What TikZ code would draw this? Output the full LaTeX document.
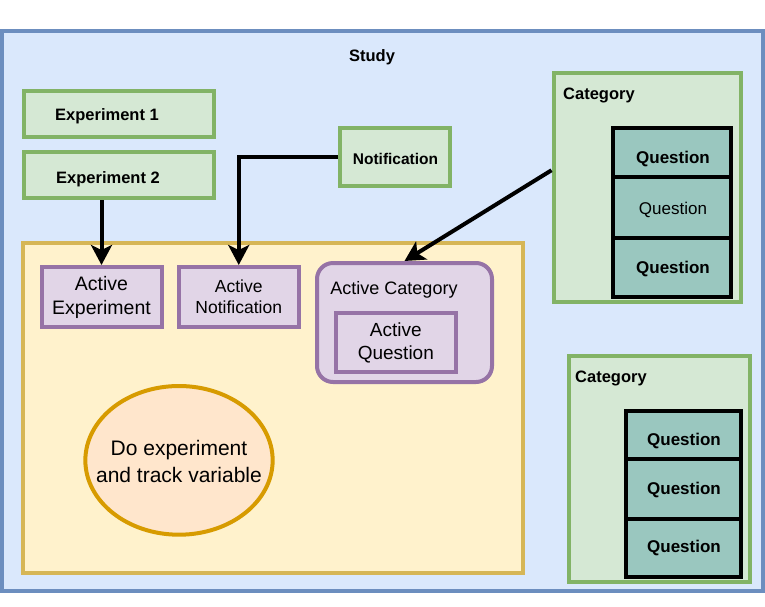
\documentclass[tikz,border=0pt]{standalone}
\usepackage{fontspec}
\setmainfont{Liberation Sans}
\usetikzlibrary{arrows.meta,shapes.geometric}
\definecolor{bluefill}{HTML}{DAE8FC}
\definecolor{bluedraw}{HTML}{6C8EBF}
\definecolor{greenfill}{HTML}{D5E8D4}
\definecolor{greendraw}{HTML}{82B366}
\definecolor{yellowfill}{HTML}{FFF2CC}
\definecolor{yellowdraw}{HTML}{D6B656}
\definecolor{purplefill}{HTML}{E1D5E7}
\definecolor{purpledraw}{HTML}{9673A6}
\definecolor{orangefill}{HTML}{FFE6CC}
\definecolor{orangedraw}{HTML}{D79B00}
\definecolor{qfill}{HTML}{9AC7BF}
\begin{document}
\begin{tikzpicture}[x=1pt,y=-1pt,
  box/.style={rectangle, line width=4pt, inner sep=0pt, anchor=center, align=center},
  bluebox/.style={box, draw=bluedraw, fill=bluefill},
  greenbox/.style={box, draw=greendraw, fill=greenfill},
  yellowbox/.style={box, draw=yellowdraw, fill=yellowfill},
  purplebox/.style={box, draw=purpledraw, fill=purplefill},
  qbox/.style={box, draw=black, fill=qfill, minimum width=118.5pt},
  qboxb/.style={box, draw=black, fill=qfill, minimum width=114.5pt},
  boldlbl/.style={font=\fontsize{16.5}{19}\selectfont\bfseries, inner sep=0pt},
  qlbl/.style={font=\fontsize{17}{20}\selectfont\bfseries, inner sep=0pt},
  qlblr/.style={font=\fontsize{17}{20}\selectfont, inner sep=0pt},
  arr/.style={line width=4pt, -{Stealth[length=20pt,width=21pt,inset=5pt]}},
]
\useasboundingbox (0,0) rectangle (765,606);
\fill[white] (0,0) rectangle (765,606);

% Study
\node[bluebox, minimum width=760.5pt, minimum height=560pt] (study) at (382.5,311) {};
\node[boldlbl] (studyt) at (372,57) {Study};

% Experiments
\node[greenbox, minimum width=190pt, minimum height=46pt] (exp1) at (119,114) {};
\node[boldlbl] (exp1t) at (107,116) {Experiment 1};
\node[greenbox, minimum width=190pt, minimum height=46pt] (exp2) at (119,175) {};
\node[boldlbl] (exp2t) at (108,179.5) {Experiment 2};

% Notification
\node[greenbox, minimum width=110.5pt, minimum height=58pt] (notif) at (394.75,157) {};
\node[boldlbl, font=\fontsize{15.5}{19}\selectfont\bfseries] (notift) at (395.5,158.5) {Notification};

% Category 1
\node[greenbox, minimum width=187pt, minimum height=228.5pt] (cat1) at (647,187.25) {};
\node[boldlbl, anchor=west] (cat1t) at (563,95) {Category};
\node[qbox, minimum height=49.5pt] (q11) at (671.75,152.25) {};
\node[qlbl] (q11t) at (673,159.5) {Question};
\node[qbox, minimum height=60.5pt] (q12) at (671.75,207.25) {};
\node[qlblr] (q12t) at (673,209.5) {Question};
\node[qbox, minimum height=59.5pt] (q13) at (671.75,267.25) {};
\node[qlbl] (q13t) at (673,269.5) {Question};

% Category 2
\node[greenbox, minimum width=181pt, minimum height=225.5pt] (cat2) at (659.5,468.75) {};
\node[boldlbl, anchor=west] (cat2t) at (575,378) {Category};
\node[qboxb, minimum height=48.5pt] (q21) at (683.25,434.75) {};
\node[qlbl] (q21t) at (684,441.5) {Question};
\node[qboxb, minimum height=60pt] (q22) at (683.25,489) {};
\node[qlbl] (q22t) at (684,490.5) {Question};
\node[qboxb, minimum height=58pt] (q23) at (683.25,548) {};
\node[qlbl] (q23t) at (684,548.5) {Question};

% Yellow area
\node[yellowbox, minimum width=500.5pt, minimum height=330pt] (area) at (272.75,407.5) {};

\node[purplebox, minimum width=120pt, minimum height=60pt, font=\fontsize{19.5}{24}\selectfont] (actE) at (101.5,297) {Active\\Experiment};
\node[purplebox, minimum width=120.5pt, minimum height=60pt, font=\fontsize{17.5}{21}\selectfont] (actN) at (238.75,297) {Active\\Notification};
\node[purplebox, rounded corners=16pt, minimum width=175pt, minimum height=119pt] (actC) at (404.5,322.5) {};
\node[inner sep=0pt, font=\fontsize{18}{21}\selectfont] (actCt) at (394,289.5) {Active Category};
\node[purplebox, minimum width=119.7pt, minimum height=59pt, font=\fontsize{19}{23}\selectfont] (actQ) at (395.85,342.5) {Active\\Question};

\node[ellipse, line width=4pt, draw=orangedraw, fill=orangefill, inner sep=0pt, minimum width=187.3pt, minimum height=148.7pt] (doexp) at (179,460.35) {};
\node[inner sep=0pt, align=center, font=\fontsize{21}{27}\selectfont] (doexpt) at (179,461) {Do experiment\\and track variable};

% Connectors
\draw[arr] (actE.north |- exp2.south) -- (actE.north);
\draw[arr] (notif.west) -| (actN.north);
\draw[arr] ([yshift=17pt]cat1.west) -- (actC.north);
\end{tikzpicture}
\end{document}
